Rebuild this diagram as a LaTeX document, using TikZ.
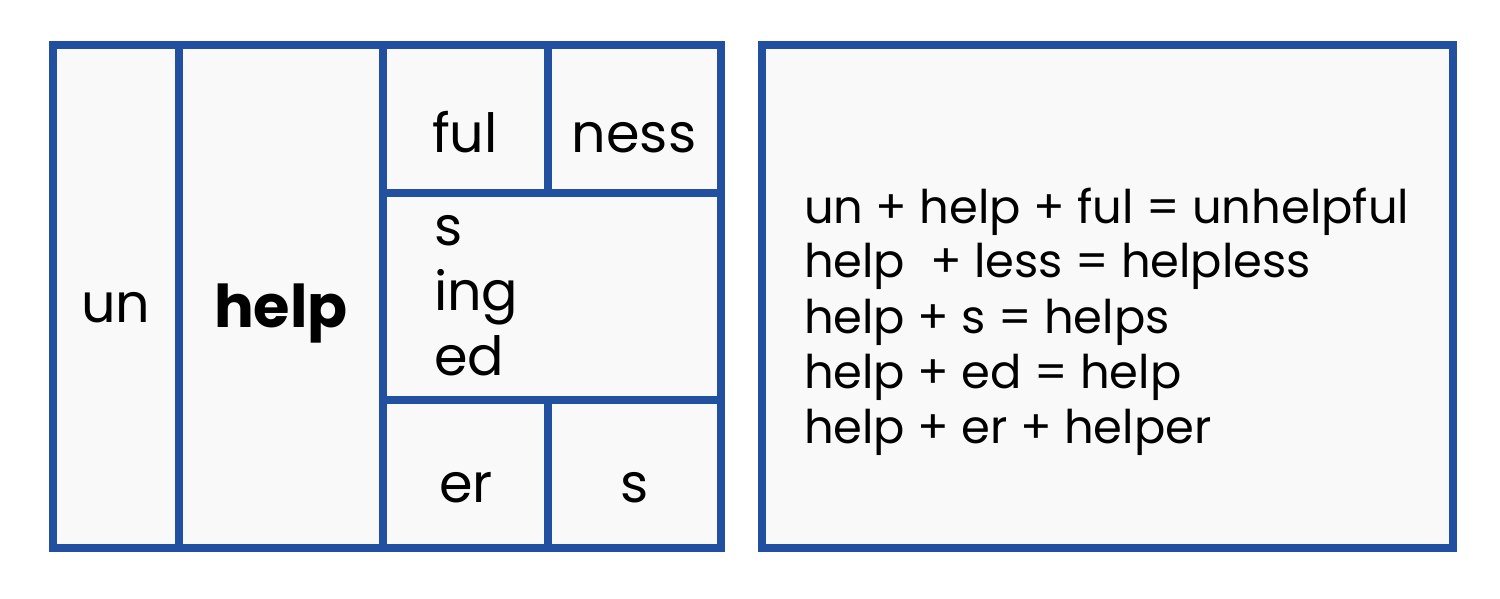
\documentclass[tikz,border=0pt]{standalone}
\usepackage{fontspec}
\setmainfont{Poppins}
\usetikzlibrary{positioning}
\definecolor{boxblue}{HTML}{2150A0}
\definecolor{cellgray}{HTML}{F9F9F9}

\begin{document}
\begin{tikzpicture}[x=0.5pt, y=-0.5pt, line width=4pt,
    part/.style={anchor=base, inner sep=0pt, font=\fontsize{27}{32}\selectfont},
    eqn/.style={anchor=base west, inner sep=0pt, font=\fontsize{23.2}{28}\selectfont}]
        \useasboundingbox[fill=white] (0,0) rectangle (1500,599);
        % word parts
        \draw[boxblue, fill=cellgray] (53,45) rectangle (721,547.5);
        \draw[boxblue] (179,45) -- (179,547.5);
        \draw[boxblue] (383,45) -- (383,547.5);
        \draw[boxblue] (383,193) -- (721,193);
        \draw[boxblue] (383,400) -- (721,400);
        \draw[boxblue] (547.5,45) -- (547.5,193);
        \draw[boxblue] (547.5,400) -- (547.5,547.5);
        \node[part] (un) at (116,322) {un};
        \node[part, font=\fontsize{29.5}{34}\selectfont\bfseries] (help) at (281,327) {help};
        \node[part] (ful) at (465,153) {ful};
        \node[part] (ness) at (634,153) {ness};
        \node[part, anchor=base west] (s) at (430,245) {s};
        \node[part, anchor=base west] (ing) at (430,310) {ing};
        \node[part, anchor=base west] (ed) at (430,375) {ed};
        \node[part] (er) at (466,502) {er};
        \node[part] (s2) at (635,502) {s};
        % sums
        \draw[boxblue, fill=cellgray] (762,45) rectangle (1452.5,547.5);
        \node[eqn] (l1) at (800,223) {un + help + ful = unhelpful};
        \node[eqn] (l2) at (800,278) {help~ + less = helpless};
        \node[eqn] (l3) at (800,333) {help + s = helps};
        \node[eqn] (l4) at (800,388) {help + ed = help};
        \node[eqn] (l5) at (800,443) {help + er + helper};
    \end{tikzpicture}
\end{document}
